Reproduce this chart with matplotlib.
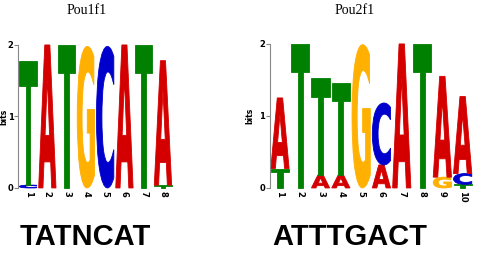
import matplotlib
matplotlib.use("Agg")
import matplotlib.pyplot as plt
from matplotlib.textpath import TextPath
from matplotlib.patches import PathPatch
from matplotlib.font_manager import FontProperties
from matplotlib.transforms import Affine2D

# Data: per column, list of (letter, height in bits) from bottom to top
titles = ["Pou1f1", "Pou2f1"]
consensus = ["TATNCAT", "ATTTGACT"]
pou1f1 = [
    [("C", 0.04), ("T", 1.73)],
    [("A", 2.0)],
    [("T", 2.0)],
    [("G", 1.98)],
    [("C", 1.98)],
    [("A", 2.0)],
    [("T", 2.0)],
    [("T", 0.04), ("A", 1.74)],
]
pou2f1 = [
    [("T", 0.27), ("A", 0.98)],
    [("T", 2.0)],
    [("A", 0.18), ("T", 1.35)],
    [("A", 0.18), ("T", 1.28)],
    [("G", 1.99)],
    [("A", 0.32), ("C", 0.86)],
    [("A", 2.0)],
    [("T", 2.0)],
    [("G", 0.15), ("A", 1.40)],
    [("T", 0.05), ("C", 0.15), ("A", 1.07)],
]
colors = {"A": "#d40000", "C": "#0000cc", "G": "#ffb000", "T": "#008000"}

fp = FontProperties(family="DejaVu Sans", weight="bold")


def draw_letter(ax, letter, x, y, w, h, color):
    tp = TextPath((0, 0), letter, size=1, prop=fp)
    bb = tp.get_extents()
    t = (Affine2D().translate(-bb.x0, -bb.y0)
         .scale(w / bb.width, h / bb.height)
         .translate(x - w / 2, y))
    path = t.transform_path(tp)
    ax.add_patch(PathPatch(path, facecolor=color, edgecolor=color,
                           linewidth=0.6, clip_on=False))


def draw_logo(ax, data):
    for i, col in enumerate(data):
        y = 0
        for letter, h in col:
            draw_letter(ax, letter, i + 1, y, 0.9, h, colors[letter])
            y += h
    ax.set_xlim(0.5, len(data) + 0.5)
    ax.set_ylim(0, 2)
    for s in ["top", "right", "bottom"]:
        ax.spines[s].set_visible(False)
    ax.spines["left"].set_color("#888888")
    ax.spines["left"].set_linewidth(0.8)
    ax.set_yticks([0, 1, 2])
    ax.set_yticklabels(["0", "1", "2"], fontsize=6, fontweight="bold")
    ax.tick_params(axis="y", length=3, width=0.8, color="#888888", pad=0.5)
    ax.set_xticks(range(1, len(data) + 1))
    ax.set_xticklabels([str(i) for i in range(1, len(data) + 1)],
                       rotation=270, fontsize=6, fontweight="bold")
    ax.tick_params(axis="x", length=0, pad=2)
    ax.set_ylabel("bits", fontsize=5.5, fontweight="bold")


fig = plt.figure(figsize=(4.99, 2.54), dpi=100)
ax1 = fig.add_axes([0.0369, 0.26, 0.309, 0.563])
ax2 = fig.add_axes([0.5407, 0.26, 0.4068, 0.567])
draw_logo(ax1, pou1f1)
draw_logo(ax2, pou2f1)
ax1.yaxis.set_label_coords(-10.5 / 154.4, 0.5)
ax2.yaxis.set_label_coords(-15.0 / 203, 0.5)

fig.text(87 / 499, 1 - 11 / 254, titles[0], ha="center", va="center",
         family="Liberation Serif", fontsize=10)
fig.text(355 / 499, 1 - 10 / 254, titles[1], ha="center", va="center",
         family="Liberation Serif", fontsize=10)
fig.text(20 / 499, 1 - 237 / 254, consensus[0], ha="left", va="center",
         family="Liberation Sans", fontweight="bold", fontsize=21)
fig.text(272 / 499, 1 - 237 / 254, consensus[1], ha="left", va="center",
         family="Liberation Sans", fontweight="bold", fontsize=21)

fig.savefig("out.png", dpi=100)
